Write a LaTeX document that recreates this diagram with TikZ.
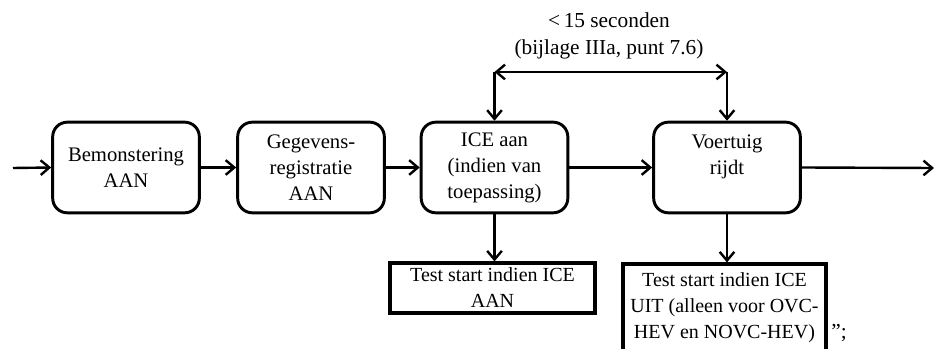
\documentclass[tikz,border=0pt]{standalone}
\usepackage{fontspec}
\setmainfont{Liberation Serif}
\usetikzlibrary{arrows.meta}

\tikzset{every picture/.style={line width=0.75pt}}
\tikzset{
  procbox/.style={draw, rounded corners=11pt, line width=2.2pt, minimum width=110pt, minimum height=68pt, align=center, inner sep=2pt, font=\fontsize{15.5}{19.5}\selectfont},
  testbox/.style={draw, line width=2.4pt, align=center, inner sep=1pt, font=\fontsize{15}{19.5}\selectfont},
  flowarrow/.style={line width=1.8pt, -{Straight Barb[length=6.5pt,width=11pt,line width=1.8pt]}},
  dblarrow/.style={line width=1.8pt, {Straight Barb[length=6.5pt,width=11pt,line width=1.8pt]}-{Straight Barb[length=6.5pt,width=11pt,line width=1.8pt]}},
  labeltext/.style={align=center, font=\fontsize{16}{20}\selectfont}
}

\begin{document}
\begin{tikzpicture}[x=0.75pt,y=0.75pt,yscale=-1,xscale=1]
\useasboundingbox (0,0) rectangle (936,349);

%Flowchart: Alternative Process
\node [procbox] (bem) at (126,167.5) {Bemonstering\\AAN};
%Flowchart: Alternative Process
\node [procbox] (geg) at (311,167.5) {Gegevens-\\registratie\\AAN};
%Flowchart: Alternative Process
\node [procbox] (ice) at (494.5,167.5) {ICE aan\\(indien van\\toepassing)};
%Flowchart: Alternative Process
\node [procbox] (voer) at (727,167.5) {Voertuig\\rijdt\\\mbox{}};

%Flowchart: Process
\node [testbox, minimum width=153.75pt, minimum height=37.5pt] (testaan) at (492.5,288) {Test start indien ICE\\AAN};
%Flowchart: Process
\node [testbox, minimum width=152.25pt, minimum height=66pt] (testuit) at (724.5,308) {Test start indien ICE\\UIT (alleen voor OVC-\\HEV en NOVC-HEV)};

%Straight Lines
\coordinate (in) at (13,168);
\coordinate (out) at (934,168);
\draw [flowarrow] (in) -- (bem.west);
\draw [flowarrow] (bem.east) -- (geg.west);
\draw [flowarrow] (geg.east) -- (ice.west);
\draw [flowarrow] (ice.east) -- (voer.west);
\draw [flowarrow] (voer.east) -- (out);

%Straight Lines
\coordinate (tl) at (494.5,72);
\coordinate (tr) at (727,72);
\draw [dblarrow] (tl) -- (tr);
\draw [flowarrow] (tl) -- (ice.north);
\draw [flowarrow] (tr) -- (voer.north);

%Straight Lines
\draw [flowarrow] (ice.south) -- (ice.south |- testaan.north);
\draw [flowarrow] (voer.south) -- (voer.south |- testuit.north);

% Text Node
\node [labeltext] (tijd) at (609,36) {<\,15 seconden\\(bijlage IIIa, punt 7.6)};
% Text Node
\node [labeltext] (slot) at (839,333) {”;};

\end{tikzpicture}
\end{document}
